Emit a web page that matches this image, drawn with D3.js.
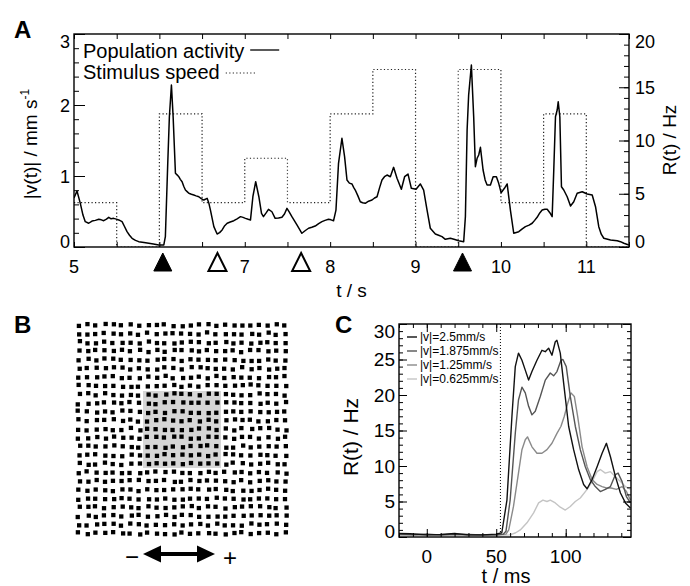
<!DOCTYPE html>
<html><head><meta charset="utf-8">
<script src="https://cdn.jsdelivr.net/npm/d3@7"></script>
<style>
body{margin:0;background:#fff}
text{font-family:"Liberation Sans",Arial,Helvetica,sans-serif;fill:#000}
</style>
</head><body>
<svg id="chart" width="690" height="586"></svg>
<script>
// ---------------- DATA ----------------
// Panel A: population activity R(t) in Hz, [t (s), R (Hz)]
const activity = [
 [5.00,4.6],[5.035,5.26],[5.074,4.10],[5.105,3.0],[5.132,2.38],[5.172,2.23],[5.211,2.44],[5.25,2.5],[5.29,2.60],[5.32,2.55],[5.348,2.47],
 [5.38,2.62],[5.407,2.79],[5.435,2.65],[5.465,2.69],[5.495,2.62],[5.524,2.54],[5.563,2.38],[5.59,1.95],[5.621,1.44],[5.65,1.1],[5.68,0.82],
 [5.72,0.62],[5.758,0.50],[5.82,0.42],[5.876,0.35],[5.93,0.28],[5.993,0.19],[6.052,0.19],[6.07,0.97],[6.098,7.86],[6.117,12.23],[6.141,15.21],
 [6.161,12.23],[6.188,6.92],[6.21,6.75],[6.227,6.60],[6.245,6.35],[6.266,6.13],[6.285,5.7],[6.305,5.35],[6.325,5.2],[6.345,5.04],[6.375,4.95],
 [6.403,4.88],[6.43,4.8],[6.462,4.72],[6.49,4.55],[6.52,4.41],[6.559,4.57],[6.58,4.1],[6.598,3.47],[6.638,1.91],[6.676,1.22],[6.705,1.35],
 [6.735,1.60],[6.765,2.0],[6.794,2.23],[6.83,2.35],[6.872,2.47],[6.91,2.65],[6.95,2.85],[6.98,2.78],[7.008,2.69],[7.04,2.6],[7.067,2.54],
 [7.095,4.72],[7.128,6.13],[7.165,4.72],[7.196,3.16],[7.219,2.85],[7.25,3.2],[7.278,3.54],[7.318,3.31],[7.356,2.69],[7.395,2.72],[7.435,2.79],
 [7.465,3.1],[7.494,3.63],[7.52,3.3],[7.552,2.85],[7.611,2.07],[7.669,1.29],[7.71,1.55],[7.747,1.76],[7.785,1.85],[7.825,1.97],[7.865,2.2],
 [7.904,2.38],[7.94,2.5],[7.981,2.60],[8.01,2.55],[8.04,2.47],[8.068,3.47],[8.098,7.86],[8.138,10.21],[8.169,8.48],[8.197,6.29],[8.225,6.0],
 [8.256,5.92],[8.275,5.6],[8.294,5.35],[8.325,4.8],[8.353,4.25],[8.38,4.15],[8.411,4.10],[8.45,4.3],[8.49,4.41],[8.52,4.6],[8.549,4.72],
 [8.58,5.6],[8.607,6.29],[8.636,6.6],[8.666,6.76],[8.705,6.60],[8.743,7.48],[8.783,6.45],[8.834,5.42],[8.872,6.60],[8.912,6.85],[8.951,5.51],
 [9.006,5.42],[9.056,5.92],[9.095,5.35],[9.135,3.47],[9.173,1.76],[9.232,1.22],[9.27,1.1],[9.31,0.97],[9.349,0.72],[9.408,0.82],[9.46,0.7],
 [9.505,0.59],[9.564,0.50],[9.584,2.85],[9.604,10.99],[9.622,14.27],[9.654,17.09],[9.681,12.23],[9.701,7.54],[9.721,8.33],[9.74,8.64],[9.76,9.36],
 [9.791,7.23],[9.815,6.3],[9.838,5.82],[9.877,5.82],[9.909,6.60],[9.947,6.60],[9.974,5.98],[10.002,5.10],[10.041,5.51],[10.073,5.92],[10.111,3.47],
 [10.15,1.29],[10.209,1.44],[10.25,1.7],[10.287,1.91],[10.33,2.05],[10.366,2.23],[10.395,2.5],[10.424,2.79],[10.455,3.2],[10.483,3.47],[10.515,3.55],
 [10.542,3.54],[10.575,3.2],[10.6,2.85],[10.619,7.23],[10.639,12.23],[10.659,12.86],[10.671,13.64],[10.69,12.23],[10.709,5.66],[10.736,5.35],
 [10.776,4.72],[10.815,3.85],[10.853,4.25],[10.893,5.04],[10.952,5.19],[11.01,4.98],[11.069,4.88],[11.108,3.78],[11.146,1.91],[11.175,1.2],
 [11.205,0.82],[11.284,0.66],[11.362,0.59],[11.40,0.5],[11.44,0.35],[11.498,0.19]
];
// Panel A: stimulus speed steps (|v| in mm/s), value holds from each time to the next
const speedTimes  = [5, 5.5, 6, 6.5, 7, 7.5, 8, 8.5, 9, 9.5, 10, 10.5, 11, 11.5];
const speedValues = [0.625, 0, 1.875, 0.625, 1.25, 0.625, 1.875, 2.5, 0, 2.5, 0.625, 1.875, 0, 0];
// Panel A: event markers below the axis
const markerTimes  = [6.04, 6.68, 7.66, 9.55];
const markerFilled = [true, false, false, true];
const aXTickLabels = [5, 7, 8, 9, 10, 11];
const aLeftTickLabels = [0, 1, 2, 3];
const aRightTickLabels = [0, 5, 10, 15, 20];

// Panel C: response curves, [t (ms), R (Hz)]
const speedsC = ["|v|=2.5mm/s", "|v|=1.875mm/s", "|v|=1.25mm/s", "|v|=0.625mm/s"];
const curve25 = [[-20,0.5],[-12,0.45],[0,0.3],[10,0.35],[20,0.5],[30,0.3],[40,0.3],[50,0.4],[54,0.6],[57.7,5.2],[61.3,17],[63.7,24],[66,25.9],[68.5,24.9],[70.9,23.5],[73.3,22.1],[75.7,23.3],[79.3,24.9],[82.9,26.3],[85.3,26.1],[87.7,26.6],[90.1,25.6],[92.5,27.5],[93.7,27.7],[96.1,25.9],[98.5,21.7],[102.1,15.6],[105.7,12.3],[109.3,9.5],[112.9,7.4],[115.4,6.8],[119,8.1],[122.6,9.9],[126.2,11.8],[129.3,13.2],[132.2,11.3],[135.8,8.5],[139.4,6.2],[143,4.8],[146.6,4.1]];
const curve1875 = [[-20,0.4],[-10,0.35],[0,0.4],[10,0.3],[20,0.4],[30,0.35],[40,0.3],[50,0.3],[55,0.4],[57,0.8],[60,5.2],[63.7,14.6],[66,19.3],[68.5,21.1],[70.9,20.3],[73.3,18.4],[75.7,17.2],[78.1,17.7],[81.7,19.8],[85.3,22.1],[88.9,23.1],[91.3,22.7],[93.7,23.3],[96.6,24.9],[98,25.0],[100.4,24.0],[103.3,19.8],[106.9,15.6],[110.5,12.3],[114.1,9.9],[117.7,8.1],[121.3,7.1],[124.9,6.4],[128.5,6.7],[132.2,7.1],[135.8,8.8],[137.7,9.0],[140.6,7.8],[143.7,5.7],[146.6,4.8]];
const curve125 = [[-20,0.3],[-10,0.3],[0,0.35],[10,0.3],[20,0.3],[30,0.3],[40,0.25],[50,0.3],[57,0.4],[59,1.0],[62.4,4.3],[66,9.0],[68.5,12.3],[70.9,13.7],[72.5,14.1],[75.7,12.7],[79.3,11.8],[82.9,11.8],[86.5,12.3],[90.1,13.2],[93.7,14.6],[96.6,15.6],[99,17.0],[101.4,18.8],[103.8,20.3],[106.2,19.8],[108.6,17.0],[111.8,12.7],[115.4,9.9],[119,8.1],[122.6,7.4],[126.2,7.1],[129.3,6.9],[132.7,6.9],[136.5,6.7],[140.6,7.1],[143.7,6.4],[146.6,5.2]];
const curve0625 = [[-20,0.3],[-10,0.25],[0,0.3],[10,0.25],[20,0.3],[30,0.25],[40,0.3],[50,0.25],[60,0.3],[64,0.6],[67.3,1.0],[72.1,2.0],[76.9,3.4],[80.5,4.8],[83.6,5.2],[86.5,5.0],[88.9,5.2],[92.5,4.8],[96.1,4.2],[99.7,3.8],[103.3,4.3],[106.9,5.0],[110.5,5.5],[115.4,6.7],[119,7.8],[122.6,9.2],[124.9,9.5],[128.5,9.0],[132.2,9.2],[135.8,8.5],[139.4,7.8],[143,7.1],[146.6,6.7]];
const curvesC = [curve25, curve1875, curve125, curve0625];
const colorsC = ["#111111", "#555555", "#8a8a8a", "#c4c4c4"];
const stimOnsetC = 53;
const cXTickLabels = [0, 50, 100];
const cYTickLabels = [0, 5, 10, 15, 20, 25, 30];

// ---------------- DRAWING ----------------
const svg = d3.select("#chart");

function tickAxis(g, axisGen, scale, values, len, transform) {
  g.append("g").attr("transform", transform)
    .call(axisGen(scale).tickValues(values).tickSize(-len).tickFormat(""))
    .call(s => s.select(".domain").remove())
    .call(s => s.selectAll("line").attr("stroke", "#000").attr("stroke-width", 1));
}
function range(a, b, step) { return d3.range(a, b + step / 2, step).map(v => +v.toFixed(6)); }

// ===== Panel A =====
const A = {l: 74, r: 629, t: 34, b: 247};
const xA = d3.scaleLinear().domain([5, 11.5]).range([A.l, A.r]);
const yAl = d3.scaleLinear().domain([0, 3]).range([A.b, A.t]);
const yAr = d3.scaleLinear().domain([0, 20]).range([A.b, A.t]);
const gA = svg.append("g");
gA.append("defs").append("clipPath").attr("id", "clipA")
  .append("rect").attr("x", A.l).attr("y", A.t - 1).attr("width", A.r - A.l).attr("height", A.b - A.t + 1);

// stimulus speed (dotted step line)
const speedPts = speedTimes.map((t, i) => [t, speedValues[i]]);
gA.append("path").attr("clip-path", "url(#clipA)")
  .attr("d", d3.line().x(d => xA(d[0])).y(d => yAl(d[1])).curve(d3.curveStepAfter)(speedPts))
  .attr("fill", "none").attr("stroke", "#222").attr("stroke-width", 1.2).attr("stroke-dasharray", "1.2,2.3");

// population activity
gA.append("path").attr("clip-path", "url(#clipA)")
  .attr("d", d3.line().x(d => xA(d[0])).y(d => yAr(d[1]))(activity))
  .attr("fill", "none").attr("stroke", "#000").attr("stroke-width", 1.5).attr("stroke-linejoin", "round");

// frame
gA.append("rect").attr("x", A.l).attr("y", A.t).attr("width", A.r - A.l).attr("height", A.b - A.t)
  .attr("fill", "none").attr("stroke", "#000").attr("stroke-width", 1.4);
// ticks
tickAxis(gA, d3.axisBottom, xA, range(5, 11.5, 0.5), 5, `translate(0,${A.b})`);
tickAxis(gA, d3.axisTop, xA, range(5, 11.5, 0.5), 5, `translate(0,${A.t})`);
tickAxis(gA, d3.axisLeft, yAl, range(0, 3, 0.2), 5, `translate(${A.l},0)`);
tickAxis(gA, d3.axisLeft, yAl, aLeftTickLabels, 11, `translate(${A.l},0)`);
tickAxis(gA, d3.axisRight, yAr, range(0, 20, 1), 5, `translate(${A.r},0)`);
tickAxis(gA, d3.axisRight, yAr, aRightTickLabels, 10, `translate(${A.r},0)`);

// tick labels
function yLabelBase(y, top, bottom) {
  if (Math.abs(y - top) < 1) return top + 14;
  if (Math.abs(y - bottom) < 1) return bottom + 0.5;
  return y + 6.5;
}
gA.selectAll(".xl").data(aXTickLabels).join("text")
  .attr("x", d => xA(d)).attr("y", 273).attr("text-anchor", "middle").attr("font-size", 18).text(d => d);
gA.selectAll(".yl").data(aLeftTickLabels).join("text")
  .attr("x", 70).attr("y", d => yLabelBase(yAl(d), A.t, A.b)).attr("text-anchor", "end").attr("font-size", 18).text(d => d);
gA.selectAll(".yr").data(aRightTickLabels).join("text")
  .attr("x", 635).attr("y", d => yLabelBase(yAr(d), A.t, A.b)).attr("text-anchor", "start").attr("font-size", 18).text(d => d);

// markers
const triW = 18, triH = 18, triTop = 253;
gA.selectAll(".mk").data(markerTimes).join("path")
  .attr("d", (d, i) => {
    const x = xA(d);
    return `M${x},${triTop}L${x + triW / 2},${triTop + triH}L${x - triW / 2},${triTop + triH}Z`;
  })
  .attr("fill", (d, i) => markerFilled[i] ? "#000" : "#fff")
  .attr("stroke", "#000").attr("stroke-width", (d, i) => markerFilled[i] ? 1 : 2).attr("stroke-linejoin", "miter");

// axis titles
gA.append("text").attr("x", (A.l + A.r) / 2).attr("y", 297).attr("text-anchor", "middle").attr("font-size", 19).text("t / s");
const lt = gA.append("text").attr("transform", "translate(37,144) rotate(-90)").attr("text-anchor", "middle").attr("font-size", 19);
lt.append("tspan").text("|v(t)| / mm s");
lt.append("tspan").attr("dy", -8).attr("font-size", 12).text("-1");
gA.append("text").attr("transform", "translate(676,140) rotate(-90)").attr("text-anchor", "middle").attr("font-size", 19).text("R(t) / Hz");

// legend
const leg1 = gA.append("text").attr("x", 83).attr("y", 57.5).attr("font-size", 20).text("Population activity");
const leg2 = gA.append("text").attr("x", 83).attr("y", 79).attr("font-size", 20).text("Stimulus speed");
const w1 = leg1.node().getComputedTextLength(), w2 = leg2.node().getComputedTextLength();
gA.append("line").attr("x1", 83 + w1 + 6).attr("x2", 83 + w1 + 35).attr("y1", 50).attr("y2", 50)
  .attr("stroke", "#000").attr("stroke-width", 1.3);
gA.append("line").attr("x1", 83 + w2 + 6).attr("x2", 83 + w2 + 36).attr("y1", 73).attr("y2", 73)
  .attr("stroke", "#222").attr("stroke-width", 1.2).attr("stroke-dasharray", "1.2,2.3");

// panel letter
svg.append("text").attr("x", 14).attr("y", 38).attr("font-size", 24).attr("font-weight", "bold").text("A");

// ===== Panel B (stimulus illustration) =====
const gB = svg.append("g");
svg.append("text").attr("x", 14).attr("y", 333).attr("font-size", 24).attr("font-weight", "bold").text("B");
gB.append("rect").attr("x", 143).attr("y", 391).attr("width", 78).attr("height", 77).attr("fill", "#d6d6d6");
function hash(i, j, k) { const s = Math.sin(i * 127.1 + j * 311.7 + k * 74.7) * 43758.5453; return s - Math.floor(s); }
const nGrid = 25, px = 8.6, py = 8.68, x0 = 79, y0 = 325, ds = 4.3;
const cells = [];
for (let j = 0; j < nGrid; j++) for (let i = 0; i < nGrid; i++) cells.push([i, j]);
gB.selectAll(".dot").data(cells).join("rect")
  .attr("x", d => x0 + d[0] * px + (hash(d[0], d[1], 1) - 0.5) * 2.6 - ds / 2)
  .attr("y", d => y0 + d[1] * py + (hash(d[0], d[1], 2) - 0.5) * 2.6 - ds / 2)
  .attr("width", ds).attr("height", ds).attr("fill", "#000");
// double arrow
gB.append("line").attr("x1", 156).attr("x2", 202).attr("y1", 554).attr("y2", 554).attr("stroke", "#000").attr("stroke-width", 4);
gB.append("path").attr("d", "M143,554L161,545.5L161,562.5Z").attr("fill", "#000");
gB.append("path").attr("d", "M215,554L197,545.5L197,562.5Z").attr("fill", "#000");
gB.append("text").attr("x", 132).attr("y", 565).attr("text-anchor", "middle").attr("font-size", 24).text("\u2212");
gB.append("text").attr("x", 230).attr("y", 566).attr("text-anchor", "middle").attr("font-size", 24).text("+");

// ===== Panel C =====
const C = {l: 399, r: 631, t: 324, b: 537};
const xC = d3.scaleLinear().domain([-20, 147]).range([C.l, C.r]);
const yC = d3.scaleLinear().domain([0, 30]).range([C.b, C.t]);
const gC = svg.append("g");
gC.append("defs").append("clipPath").attr("id", "clipC")
  .append("rect").attr("x", C.l).attr("y", C.t).attr("width", C.r - C.l).attr("height", C.b - C.t);
svg.append("text").attr("x", 335).attr("y", 333).attr("font-size", 24).attr("font-weight", "bold").text("C");

gC.append("line").attr("x1", xC(stimOnsetC)).attr("x2", xC(stimOnsetC)).attr("y1", C.t).attr("y2", C.b)
  .attr("stroke", "#000").attr("stroke-width", 1).attr("stroke-dasharray", "1,2");
const lineC = d3.line().x(d => xC(d[0])).y(d => yC(d[1]));
[3, 2, 1, 0].forEach(k => {
  gC.append("path").attr("clip-path", "url(#clipC)").attr("d", lineC(curvesC[k]))
    .attr("fill", "none").attr("stroke", colorsC[k]).attr("stroke-width", 1.4).attr("stroke-linejoin", "round");
});
gC.append("rect").attr("x", C.l).attr("y", C.t).attr("width", C.r - C.l).attr("height", C.b - C.t)
  .attr("fill", "none").attr("stroke", "#000").attr("stroke-width", 1.4);
tickAxis(gC, d3.axisBottom, xC, range(-20, 140, 10), 4, `translate(0,${C.b})`);
tickAxis(gC, d3.axisBottom, xC, cXTickLabels, 8, `translate(0,${C.b})`);
tickAxis(gC, d3.axisTop, xC, range(-20, 140, 10), 4, `translate(0,${C.t})`);
tickAxis(gC, d3.axisTop, xC, cXTickLabels, 8, `translate(0,${C.t})`);
tickAxis(gC, d3.axisLeft, yC, range(0, 30, 1), 4, `translate(${C.l},0)`);
tickAxis(gC, d3.axisLeft, yC, cYTickLabels, 8, `translate(${C.l},0)`);
tickAxis(gC, d3.axisRight, yC, range(0, 30, 1), 4, `translate(${C.r},0)`);
tickAxis(gC, d3.axisRight, yC, cYTickLabels, 8, `translate(${C.r},0)`);

gC.selectAll(".cx").data(cXTickLabels).join("text")
  .attr("x", d => xC(d)).attr("y", 563).attr("text-anchor", "middle").attr("font-size", 19).text(d => d);
gC.selectAll(".cy").data(cYTickLabels).join("text")
  .attr("x", 395).attr("y", d => yLabelBase(yC(d), C.t, C.b)).attr("text-anchor", "end").attr("font-size", 19).text(d => d);
gC.append("text").attr("x", 506).attr("y", 583).attr("text-anchor", "middle").attr("font-size", 20).text("t / ms");
gC.append("text").attr("transform", "translate(358,437) rotate(-90)").attr("text-anchor", "middle").attr("font-size", 21).text("R(t) / Hz");

// legend C
speedsC.forEach((s, k) => {
  const y = 337 + k * 14;
  gC.append("line").attr("x1", 407).attr("x2", 417).attr("y1", y).attr("y2", y).attr("stroke", colorsC[k]).attr("stroke-width", 1.4);
  gC.append("text").attr("x", 420).attr("y", y + 4.3).attr("font-size", 12).text(s);
});
</script>
</body></html>
